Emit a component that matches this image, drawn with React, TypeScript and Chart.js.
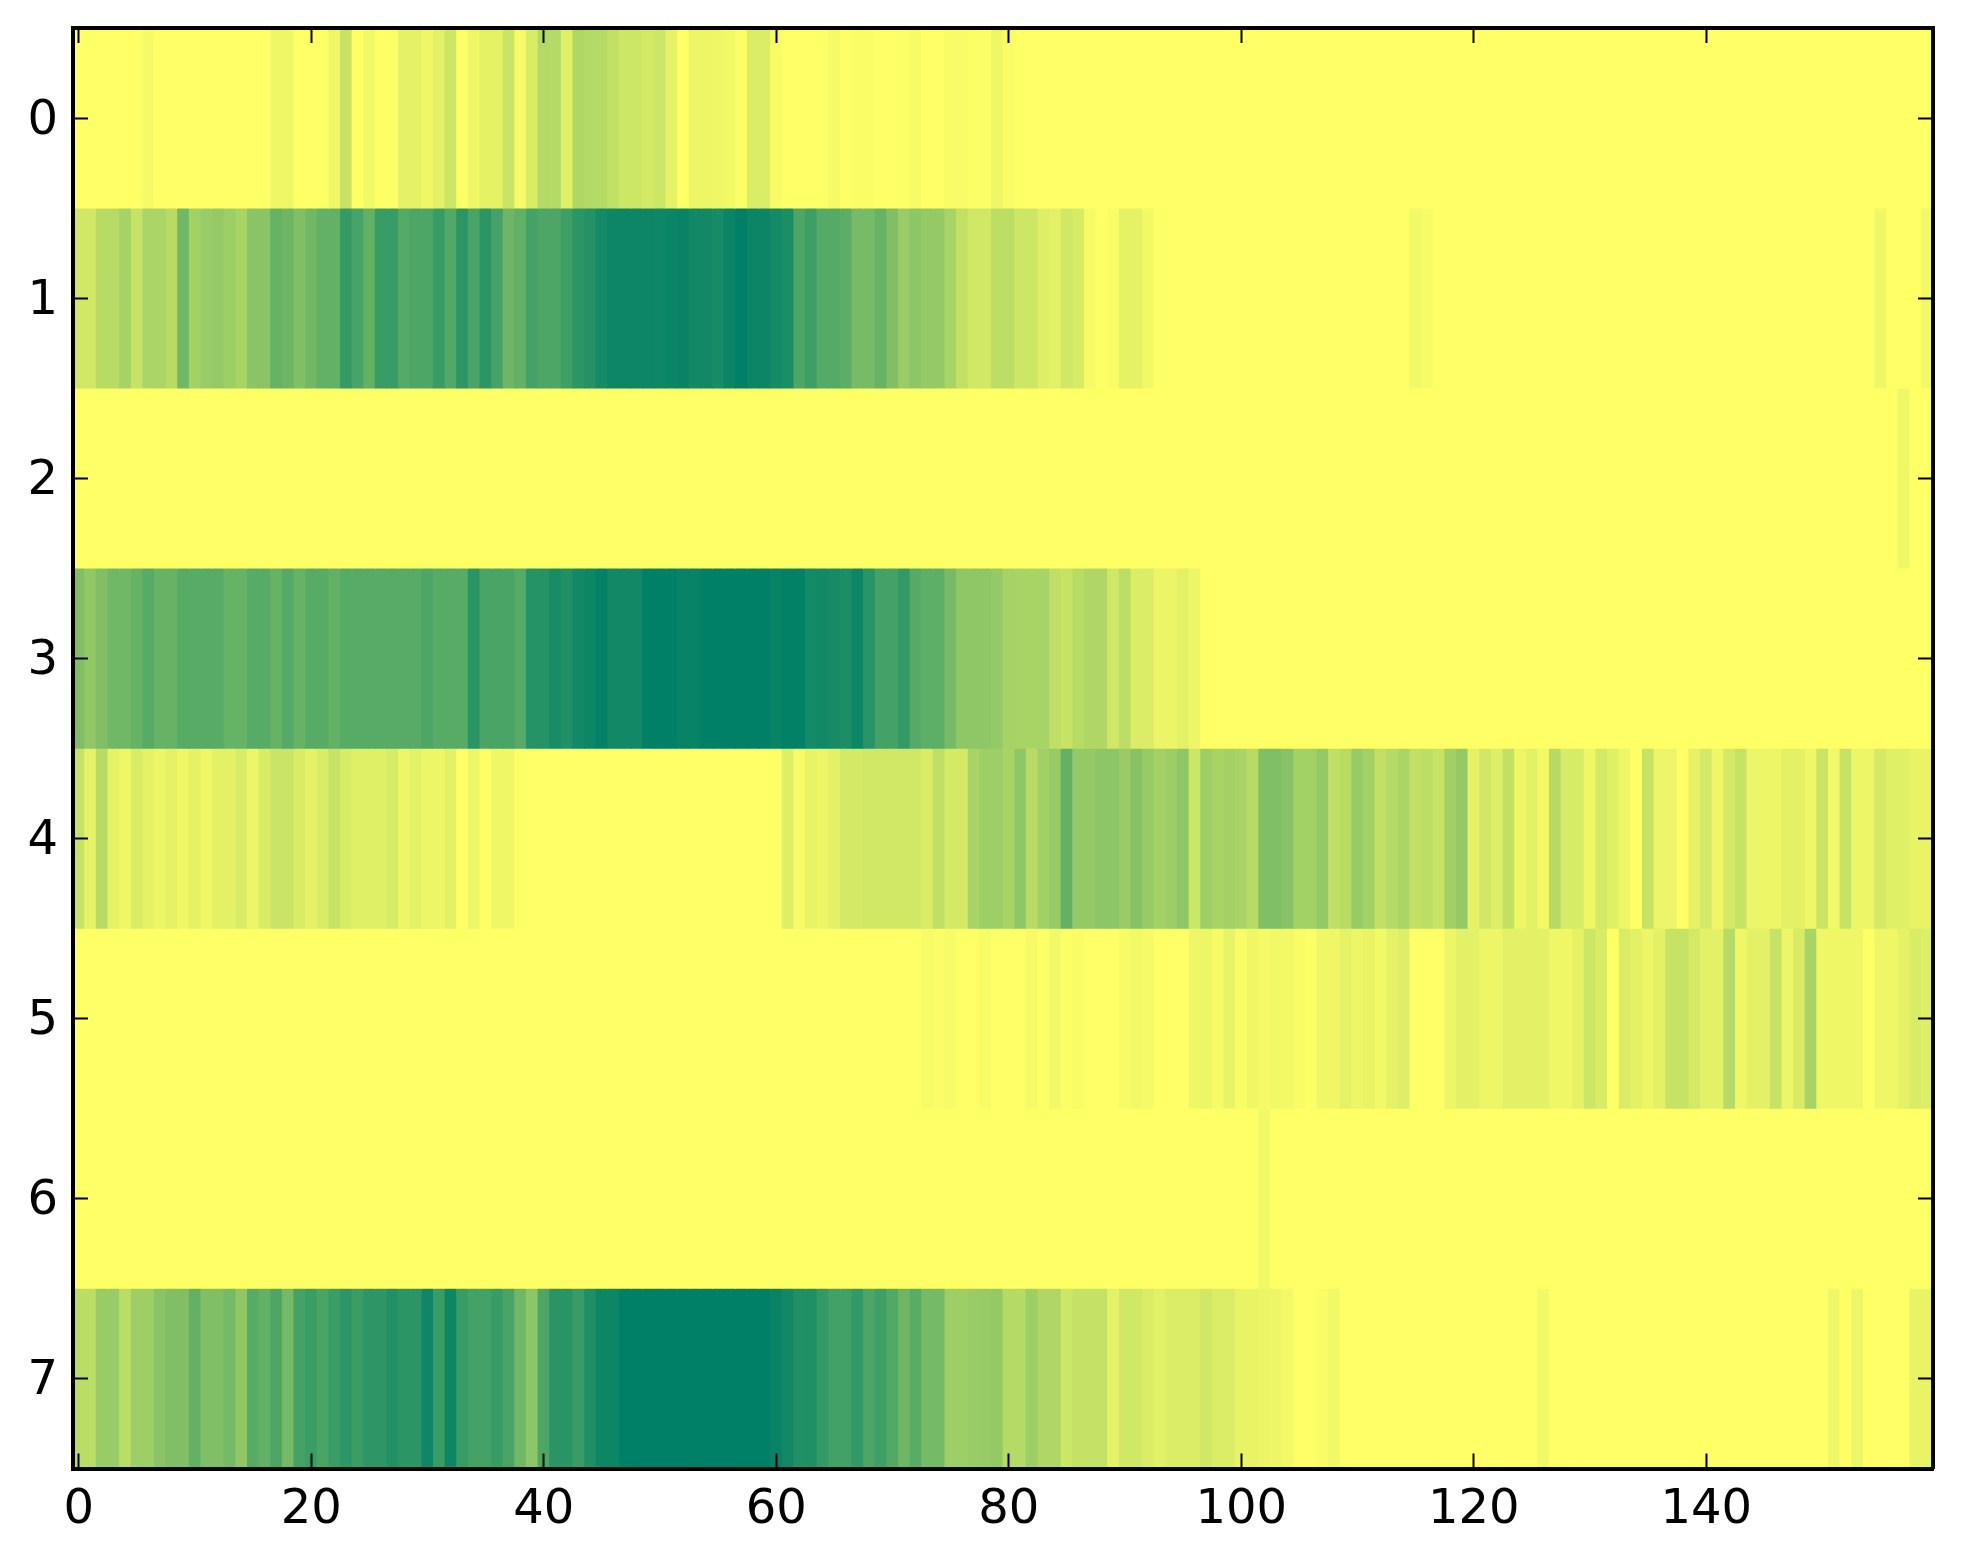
import React, { useEffect, useRef } from "react";
import { Chart, registerables } from "chart.js";

Chart.register(...registerables);

const xTickValues = [0, 20, 40, 60, 80, 100, 120, 140];
const yTickValues = [0, 1, 2, 3, 4, 5, 6, 7];

const row0 = [
  0, 0, 0, 0, 0, 0, .04, 0, 0, 0,
  0, 0, 0, 0, 0, 0, 0, .06, .06, 0,
  0, 0, .06, .22, 0, .05, 0, 0, .1, .1,
  .06, .11, .2, 0, .06, .1, .1, .21, .04, .15,
  .3, .29, .12, .31, .3, .29, .24, .2, .2, .17,
  .2, .1, 0, .07, .07, .06, .05, .01, .14, .14,
  .03, 0, 0, 0, 0, .04, .005, .015, .015, 0,
  0, 0, .03, 0, 0, .025, .025, .01, .01, .06,
  .02, 0, 0, 0, 0, 0, 0, 0, 0, 0,
  0, 0, 0, 0, 0, 0, 0, 0, 0, 0,
  0, 0, 0, 0, 0, 0, 0, 0, 0, 0,
  0, 0, 0, 0, 0, 0, 0, 0, 0, 0,
  0, 0, 0, 0, 0, 0, 0, 0, 0, 0,
  0, 0, 0, 0, 0, 0, 0, 0, 0, 0,
  0, 0, 0, 0, 0, 0, 0, 0, 0, 0,
  0, 0, 0, 0, 0, 0, 0, 0, 0, 0,
];
const row1 = [
  .18, .18, .28, .28, .35, .22, .33, .33, .28, .56,
  .36, .4, .42, .38, .34, .46, .46, .6, .57, .5,
  .56, .61, .61, .79, .72, .62, .78, .78, .67, .7,
  .7, .78, .68, .83, .71, .83, .73, .57, .62, .73,
  .7, .7, .76, .83, .86, .92, .95, .95, .95, .95,
  .94, .96, .97, .93, .93, .91, .96, 1, .96, .96,
  .92, .89, .7, .76, .67, .67, .64, .53, .53, .6,
  .5, .4, .45, .42, .42, .34, .24, .18, .18, .26,
  .26, .2, .2, .13, .11, .18, .16, .04, 0, .02,
  .1, .1, .05, 0, 0, 0, 0, 0, 0, 0,
  0, 0, 0, 0, 0, 0, 0, 0, 0, 0,
  0, 0, 0, 0, 0, .05, .03, 0, 0, 0,
  0, 0, 0, 0, 0, 0, 0, 0, 0, 0,
  0, 0, 0, 0, 0, 0, 0, 0, 0, 0,
  0, 0, 0, 0, 0, 0, 0, 0, 0, 0,
  0, 0, 0, 0, 0, .06, 0, 0, 0, .05,
];
const row2 = [
  0, 0, 0, 0, 0, 0, 0, 0, 0, 0,
  0, 0, 0, 0, 0, 0, 0, 0, 0, 0,
  0, 0, 0, 0, 0, 0, 0, 0, 0, 0,
  0, 0, 0, 0, 0, 0, 0, 0, 0, 0,
  0, 0, 0, 0, 0, 0, 0, 0, 0, 0,
  0, 0, 0, 0, 0, 0, 0, 0, 0, 0,
  0, 0, 0, 0, 0, 0, 0, 0, 0, 0,
  0, 0, 0, 0, 0, 0, 0, 0, 0, 0,
  0, 0, 0, 0, 0, 0, 0, 0, 0, 0,
  0, 0, 0, 0, 0, 0, 0, 0, 0, 0,
  0, 0, 0, 0, 0, 0, 0, 0, 0, 0,
  0, 0, 0, 0, 0, 0, 0, 0, 0, 0,
  0, 0, 0, 0, 0, 0, 0, 0, 0, 0,
  0, 0, 0, 0, 0, 0, 0, 0, 0, 0,
  0, 0, 0, 0, 0, 0, 0, 0, 0, 0,
  0, 0, 0, 0, 0, 0, 0, .06, 0, 0,
];
const row3 = [
  .5, .43, .5, .56, .56, .6, .66, .6, .6, .66,
  .66, .66, .66, .6, .6, .66, .66, .6, .67, .6,
  .66, .66, .61, .66, .66, .66, .66, .66, .66, .66,
  .7, .66, .66, .66, .84, .71, .71, .71, .67, .85,
  .85, .9, .87, .93, .95, .98, .93, .93, .93, 1,
  1, 1, .97, .97, 1, 1, 1, 1, 1, 1,
  .97, .99, .99, .92, .93, .91, .89, .95, .84, .73,
  .73, .8, .67, .63, .63, .53, .44, .44, .44, .42,
  .35, .34, .34, .34, .25, .22, .28, .31, .31, .18,
  .26, .14, .14, .08, .08, .11, .07, 0, 0, 0,
  0, 0, 0, 0, 0, 0, 0, 0, 0, 0,
  0, 0, 0, 0, 0, 0, 0, 0, 0, 0,
  0, 0, 0, 0, 0, 0, 0, 0, 0, 0,
  0, 0, 0, 0, 0, 0, 0, 0, 0, 0,
  0, 0, 0, 0, 0, 0, 0, 0, 0, 0,
  0, 0, 0, 0, 0, 0, 0, 0, 0, 0,
];
const row4 = [
  .22, .1, .28, .1, .06, .15, .1, .07, .1, .06,
  .1, .06, .11, .11, .15, .07, .15, .21, .21, .15,
  .1, .15, .22, .16, .12, .12, .12, .16, .07, .11,
  .07, .07, .11, 0, .07, 0, .06, .06, 0, 0,
  0, 0, 0, 0, 0, 0, 0, 0, 0, 0,
  0, 0, 0, 0, 0, 0, 0, 0, 0, 0,
  0, .13, .03, .09, .07, .11, .17, .17, .18, .18,
  .18, .18, .18, .15, .25, .17, .17, .34, .38, .38,
  .34, .44, .28, .37, .41, .61, .42, .42, .45, .45,
  .4, .47, .41, .36, .39, .44, .2, .38, .34, .36,
  .34, .28, .5, .5, .47, .36, .36, .42, .25, .28,
  .41, .36, .24, .29, .33, .24, .26, .22, .37, .42,
  .1, .18, .13, .24, .06, .11, .05, .29, .16, .16,
  .06, .17, .12, .07, 0, .22, .07, .07, 0, .1,
  .17, .06, .17, .22, .07, .07, .07, .11, .11, .06,
  .21, .05, .22, .07, .07, .17, .12, .12, .09, .09,
];
const row5 = [
  0, 0, 0, 0, 0, 0, 0, 0, 0, 0,
  0, 0, 0, 0, 0, 0, 0, 0, 0, 0,
  0, 0, 0, 0, 0, 0, 0, 0, 0, 0,
  0, 0, 0, 0, 0, 0, 0, 0, 0, 0,
  0, 0, 0, 0, 0, 0, 0, 0, 0, 0,
  0, 0, 0, 0, 0, 0, 0, 0, 0, 0,
  0, 0, 0, 0, 0, 0, 0, 0, 0, 0,
  0, 0, 0, .03, .015, .03, 0, 0, .03, 0,
  0, 0, .04, 0, .05, .01, .02, 0, 0, 0,
  .03, .05, .04, 0, 0, 0, .06, .07, .03, .09,
  .02, .06, .04, .05, .05, .02, 0, .06, .06, .1,
  .07, .09, .05, .1, .13, 0, 0, 0, .07, .11,
  .11, .07, .07, .11, .11, .11, .11, .06, .06, .1,
  .2, .15, 0, .15, .11, .07, .11, .22, .22, .17,
  .11, .11, .29, .06, .11, .11, .22, .07, .16, .34,
  .06, .06, .06, .06, 0, .06, .06, .1, .15, .13,
];
const row6 = [
  0, 0, 0, 0, 0, 0, 0, 0, 0, 0,
  0, 0, 0, 0, 0, 0, 0, 0, 0, 0,
  0, 0, 0, 0, 0, 0, 0, 0, 0, 0,
  0, 0, 0, 0, 0, 0, 0, 0, 0, 0,
  0, 0, 0, 0, 0, 0, 0, 0, 0, 0,
  0, 0, 0, 0, 0, 0, 0, 0, 0, 0,
  0, 0, 0, 0, 0, 0, 0, 0, 0, 0,
  0, 0, 0, 0, 0, 0, 0, 0, 0, 0,
  0, 0, 0, 0, 0, 0, 0, 0, 0, 0,
  0, 0, 0, 0, 0, 0, 0, 0, 0, 0,
  0, 0, .05, 0, 0, 0, 0, 0, 0, 0,
  0, 0, 0, 0, 0, 0, 0, 0, 0, 0,
  0, 0, 0, 0, 0, 0, 0, 0, 0, 0,
  0, 0, 0, 0, 0, 0, 0, 0, 0, 0,
  0, 0, 0, 0, 0, 0, 0, 0, 0, 0,
  0, 0, 0, 0, 0, 0, 0, 0, 0, 0,
];
const row7 = [
  .27, .27, .4, .4, .27, .38, .38, .46, .5, .5,
  .61, .5, .5, .54, .44, .66, .61, .7, .55, .73,
  .77, .71, .77, .82, .77, .82, .82, .87, .83, .83,
  .94, .78, .95, .78, .73, .73, .78, .71, .56, .45,
  .7, .84, .84, .78, .88, .95, .95, 1, 1, 1,
  1, 1, 1, 1, 1, 1, 1, 1, 1, 1,
  .97, .93, .87, .88, .8, .74, .74, .8, .7, .75,
  .68, .57, .65, .54, .54, .38, .38, .4, .41, .42,
  .29, .29, .38, .31, .31, .2, .23, .23, .23, .1,
  .18, .18, .14, .11, .14, .14, .14, .18, .14, .14,
  .09, .09, .08, .07, .05, 0, 0, .02, .05, 0,
  0, 0, 0, 0, 0, 0, 0, 0, 0, 0,
  0, 0, 0, 0, 0, 0, .05, 0, 0, 0,
  0, 0, 0, 0, 0, 0, 0, 0, 0, 0,
  0, 0, 0, 0, 0, 0, 0, 0, 0, 0,
  0, .06, 0, .07, 0, 0, 0, 0, .09, .09,
];

const rows = [row0, row1, row2, row3, row4, row5, row6, row7];

// matplotlib "summer_r": 0 = yellow, 1 = green
function summerR(v: number): string {
  const t = 1 - v;
  return `rgb(${Math.round(255 * t)},${Math.round(255 * (0.5 + 0.5 * t))},102)`;
}

const FONT = { family: "'DejaVu Sans'", size: 48 };

export default function App() {
  const ref = useRef<HTMLCanvasElement | null>(null);

  useEffect(() => {
    if (!ref.current) return;
    const setTicks = (values: number[]) => (scale: any) => {
      scale.ticks = values.map((value) => ({ value }));
    };
    const fitScale = (size: Record<string, number>) => (s: any) => {
      Object.assign(s, size);
      s.paddingTop = 0;
      s.paddingBottom = 0;
      s.paddingLeft = 0;
      s.paddingRight = 0;
    };
    const grid = { offset: false, drawOnChartArea: false, drawTicks: true, tickLength: -15, tickWidth: 2, tickColor: "#000", z: 2 };
    const border = { display: true, color: "#000", width: 4, z: 3 };
    const xRange = { type: "linear" as const, min: -0.5, max: 159.5, offset: false };
    const yRange = { type: "linear" as const, min: -0.5, max: 7.5, reverse: true };

    const chart = new Chart(ref.current, {
      type: "bar",
      data: {
        datasets: rows.map((values, r) => ({
          label: String(r),
          data: values.map((_, c) => ({ x: c, y: [r - 0.5, r + 0.5] })) as any,
          backgroundColor: values.map(summerR),
          borderWidth: 0,
          borderSkipped: false,
          inflateAmount: 0.4,
          grouped: false,
          barPercentage: 1,
          categoryPercentage: 1,
        })),
      },
      options: {
        responsive: false,
        animation: false,
        devicePixelRatio: 1,
        layout: { autoPadding: false, padding: { left: 0, top: 28, right: 30, bottom: 0 } },
        plugins: { legend: { display: false }, tooltip: { enabled: false }, title: { display: false } },
        scales: {
          x: {
            ...xRange,
            position: "bottom",
            grid,
            border,
            afterBuildTicks: setTicks(xTickValues),
            afterFit: fitScale({ height: 95.5 }),
            ticks: { font: FONT, color: "#000", padding: 28, maxRotation: 0, autoSkip: false, callback: (v: any) => String(v) },
          },
          x2: {
            ...xRange,
            position: "top",
            grid,
            border,
            afterBuildTicks: setTicks(xTickValues),
            afterFit: fitScale({ height: 0 }),
            ticks: { display: false },
          },
          y: {
            ...yRange,
            position: "left",
            grid,
            border,
            afterBuildTicks: setTicks(yTickValues),
            afterFit: fitScale({ width: 73 }),
            ticks: { font: FONT, color: "#000", padding: 30, labelOffset: 3, autoSkip: false, callback: (v: any) => String(v) },
          },
          y2: {
            ...yRange,
            position: "right",
            grid,
            border,
            afterBuildTicks: setTicks(yTickValues),
            afterFit: fitScale({ width: 0 }),
            ticks: { display: false },
          },
        },
      } as any,
    });
    return () => chart.destroy();
  }, []);

  return (
    <canvas
      ref={ref}
      width={1963}
      height={1564}
      style={{ position: "absolute", left: 0, top: 0, width: 1963, height: 1564, display: "block", background: "#fff" }}
    />
  );
}
